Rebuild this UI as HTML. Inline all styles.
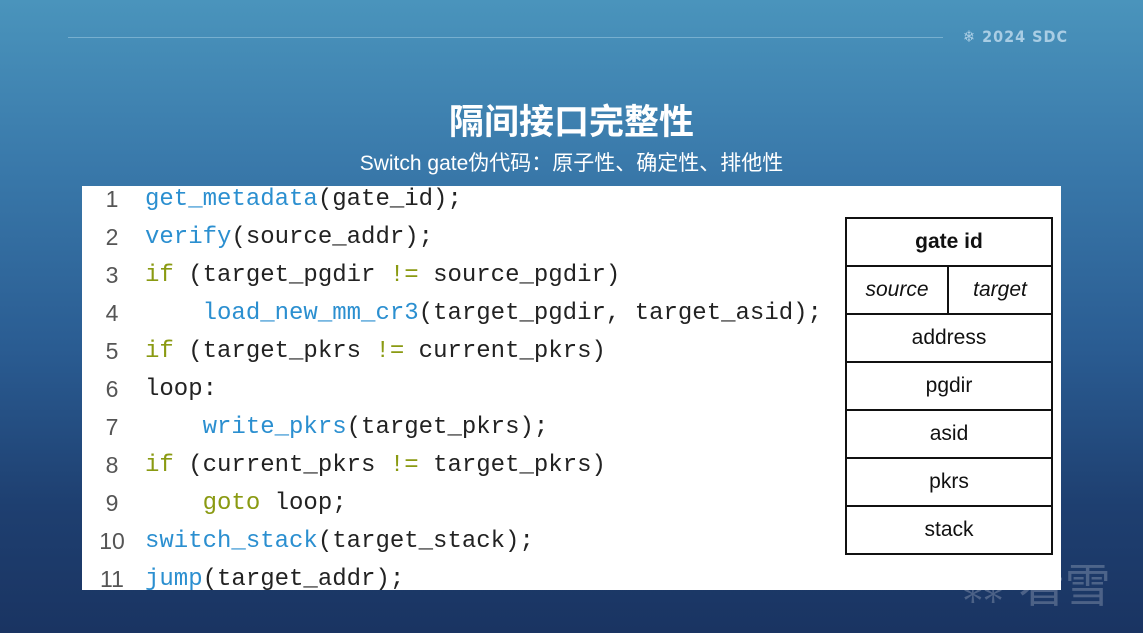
<!DOCTYPE html>
<html><head><meta charset="utf-8"><style>
body{margin:0;width:1143px;height:633px;overflow:hidden;font-family:"Liberation Sans","Noto Sans CJK SC",sans-serif;
background:linear-gradient(180deg,#4a94bc 0%,#3a7aab 25%,#2a5c92 55%,#1e3f70 80%,#1a3462 100%);position:relative}
.hl{position:absolute;left:68px;top:37px;width:875px;height:1px;background:rgba(180,215,235,.45)}
.logo{position:absolute;left:963px;top:27px;color:#a9cde4;font:bold 16px "DejaVu Sans Condensed","DejaVu Sans",sans-serif;letter-spacing:1px}
h1{position:absolute;top:94px;left:0;width:1143px;text-align:center;margin:0;color:#fff;font-size:35px;font-weight:bold}
.sub{position:absolute;top:147px;left:0;width:1143px;text-align:center;color:#fff;font-size:21px}
.code{position:absolute;left:82px;top:186px;width:979px;height:404px;background:#fff}
.ln{position:absolute;left:0;width:60px;text-align:center;font:23px "Liberation Sans",sans-serif;color:#555}
.c{position:absolute;left:63px;font:24px "Liberation Mono",monospace;color:#222;white-space:pre}
.b{color:#2b8fd0}.g{color:#8a9a12}
table{position:absolute;left:845px;top:217px;border-collapse:collapse;width:208px}
td{border:2px solid #111;height:46px;text-align:center;font-size:21px;color:#111;padding:0}
.wm{position:absolute;left:960px;top:550px;color:rgba(255,255,255,.22);font-size:46px}
</style></head><body>
<div class="hl"></div>
<div class="logo">❄ 2024 SDC</div>
<h1>隔间接口完整性</h1>
<div class="sub">Switch gate伪代码：原子性、确定性、排他性</div>
<div class="code">
<div class="ln" style="top:0px">1</div><div class="c" style="top:0px"><span class="b">get_metadata</span>(gate_id);</div>
<div class="ln" style="top:38px">2</div><div class="c" style="top:38px"><span class="b">verify</span>(source_addr);</div>
<div class="ln" style="top:76px">3</div><div class="c" style="top:76px"><span class="g">if</span> (target_pgdir <span class="g">!=</span> source_pgdir)</div>
<div class="ln" style="top:114px">4</div><div class="c" style="top:114px">    <span class="b">load_new_mm_cr3</span>(target_pgdir, target_asid);</div>
<div class="ln" style="top:152px">5</div><div class="c" style="top:152px"><span class="g">if</span> (target_pkrs <span class="g">!=</span> current_pkrs)</div>
<div class="ln" style="top:190px">6</div><div class="c" style="top:190px">loop:</div>
<div class="ln" style="top:228px">7</div><div class="c" style="top:228px">    <span class="b">write_pkrs</span>(target_pkrs);</div>
<div class="ln" style="top:266px">8</div><div class="c" style="top:266px"><span class="g">if</span> (current_pkrs <span class="g">!=</span> target_pkrs)</div>
<div class="ln" style="top:304px">9</div><div class="c" style="top:304px">    <span class="g">goto</span> loop;</div>
<div class="ln" style="top:342px">10</div><div class="c" style="top:342px"><span class="b">switch_stack</span>(target_stack);</div>
<div class="ln" style="top:380px">11</div><div class="c" style="top:380px"><span class="b">jump</span>(target_addr);</div>
</div>
<table>
<tr><td colspan="2"><b>gate id</b></td></tr>
<tr><td style="width:100px"><i>source</i></td><td><i>target</i></td></tr>
<tr><td colspan="2">address</td></tr>
<tr><td colspan="2">pgdir</td></tr>
<tr><td colspan="2">asid</td></tr>
<tr><td colspan="2">pkrs</td></tr>
<tr><td colspan="2">stack</td></tr>
</table>
<div class="wm">⁂ 看雪</div>
</body></html>
